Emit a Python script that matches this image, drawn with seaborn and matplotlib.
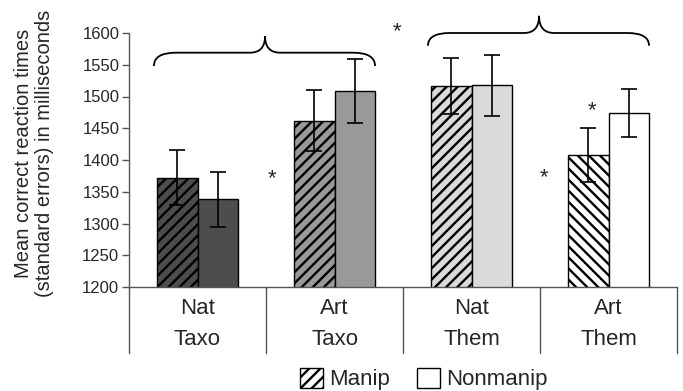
import matplotlib
matplotlib.use("Agg")
import matplotlib.pyplot as plt
from matplotlib.path import Path
from matplotlib.patches import PathPatch, Patch
import matplotlib.transforms as mtransforms
import seaborn as sns
import pandas as pd
import numpy as np

# ---- data ----
categories = ["Nat\nTaxo", "Art\nTaxo", "Nat\nThem", "Art\nThem"]
types = ["Manip", "Nonmanip"]
manip_means = [1372, 1462, 1516, 1408]
nonmanip_means = [1338, 1509, 1518, 1474]
manip_se = [43, 48, 44, 42]
nonmanip_se = [43, 50, 48, 38]
yticks = [1200, 1250, 1300, 1350, 1400, 1450, 1500, 1550, 1600]
ylabel_text = "Mean correct reaction times\n(standard errors) in milliseconds"

# styles
fill_colors = ["#4d4d4d", "#999999", "#dadada", "#ffffff"]
manip_hatch = ["///", "///", "///", "\\\\\\"]

sns.set_theme(style="white")
plt.rcParams["font.family"] = ["Liberation Sans", "DejaVu Sans"]
plt.rcParams["hatch.linewidth"] = 1.7
plt.rcParams["hatch.color"] = "black"

df = pd.DataFrame({
    "Category": categories * 2,
    "Type": [types[0]] * 4 + [types[1]] * 4,
    "RT": manip_means + nonmanip_means,
})

fig = plt.figure(figsize=(6.83, 3.91), dpi=100)
ax = fig.add_axes([129 / 683, 1 - 287 / 391, 548 / 683, 254 / 391])

sns.barplot(data=df, x="Category", y="RT", hue="Type", order=categories,
            hue_order=types, width=0.584, gap=0, errorbar=None, legend=False,
            ax=ax, edgecolor="black", linewidth=1.0, saturation=1)

ses = [manip_se, nonmanip_se]
bar_containers = list(ax.containers)
for k, cont in enumerate(bar_containers):
    xs, hs = [], []
    for i, p in enumerate(cont.patches):
        p.set_facecolor(fill_colors[i])
        p.set_edgecolor("black")
        p.set_linewidth(1.0)
        if k == 0:
            p.set_hatch(manip_hatch[i])
        xs.append(p.get_x() + p.get_width() / 2)
        hs.append(p.get_height())
    ax.errorbar(xs, hs, yerr=ses[k], fmt="none", ecolor="black",
                elinewidth=1.2, capsize=6, capthick=1.2, zorder=5)

ax.set_ylim(1200, 1600)
ax.set_xlim(-0.5, 3.5)
ax.set_yticks(yticks)
ax.set_yticklabels([str(t) for t in yticks])
ax.tick_params(axis="y", which="both", left=True, length=5, width=1,
               color="#555555", labelsize=12, pad=2)
ax.tick_params(axis="x", length=0, labelsize=16, pad=8)
for lab in ax.get_xticklabels():
    lab.set_linespacing(1.62)
ax.set_xlabel("")
ax.set_ylabel("")
for s in ["top", "right"]:
    ax.spines[s].set_visible(False)
for s in ["left", "bottom"]:
    ax.spines[s].set_visible(True)
    ax.spines[s].set_color("#555555")
    ax.spines[s].set_linewidth(1.0)

# category dividers
trans = mtransforms.blended_transform_factory(ax.transData, ax.transAxes)
for xb in np.arange(-0.5, len(categories), 1.0):
    ax.plot([xb, xb], [0, -66 / 254], transform=trans, color="#555555",
            lw=1.0, clip_on=False)

# braces
def brace(x0, x1, xp, y_end, y_flat, y_top, rx=0.16, rp=0.11):
    verts = [(x0, y_end), (x0, y_flat), (x0 + rx, y_flat),
             (xp - rp, y_flat), (xp, y_flat), (xp, y_top),
             (xp, y_flat), (xp + rp, y_flat),
             (x1 - rx, y_flat), (x1, y_flat), (x1, y_end)]
    codes = [Path.MOVETO, Path.CURVE3, Path.CURVE3,
             Path.LINETO, Path.CURVE3, Path.CURVE3,
             Path.CURVE3, Path.CURVE3,
             Path.LINETO, Path.CURVE3, Path.CURVE3]
    ax.add_patch(PathPatch(Path(verts, codes), fill=False, lw=1.3,
                           edgecolor="black", clip_on=False))

brace(-0.318, 1.296, 0.493, 1548, 1569, 1595)
brace(1.682, 3.296, 2.493, 1580, 1600, 1627)

# significance stars
for (sx, sy) in [(0.544, 1370), (1.456, 1602), (2.529, 1372), (2.88, 1477)]:
    ax.text(sx, sy, "*", ha="center", va="center", fontsize=16,
            clip_on=False)

fig.text(34 / 683, 1 - 153 / 391, ylabel_text, rotation=90, ha="center",
         va="center", fontsize=14.5, linespacing=1.15)

handles = [Patch(facecolor="white", edgecolor="black", hatch="///", label=types[0]),
           Patch(facecolor="white", edgecolor="black", label=types[1])]
fig.legend(handles=handles, loc="center", bbox_to_anchor=(424 / 683, 1 - 379 / 391),
           ncol=2, frameon=False, fontsize=16, handlelength=1.04,
           handleheight=1.0, handletextpad=0.27, columnspacing=1.2,
           borderpad=0, borderaxespad=0)

fig.savefig("out.png", dpi=100)
